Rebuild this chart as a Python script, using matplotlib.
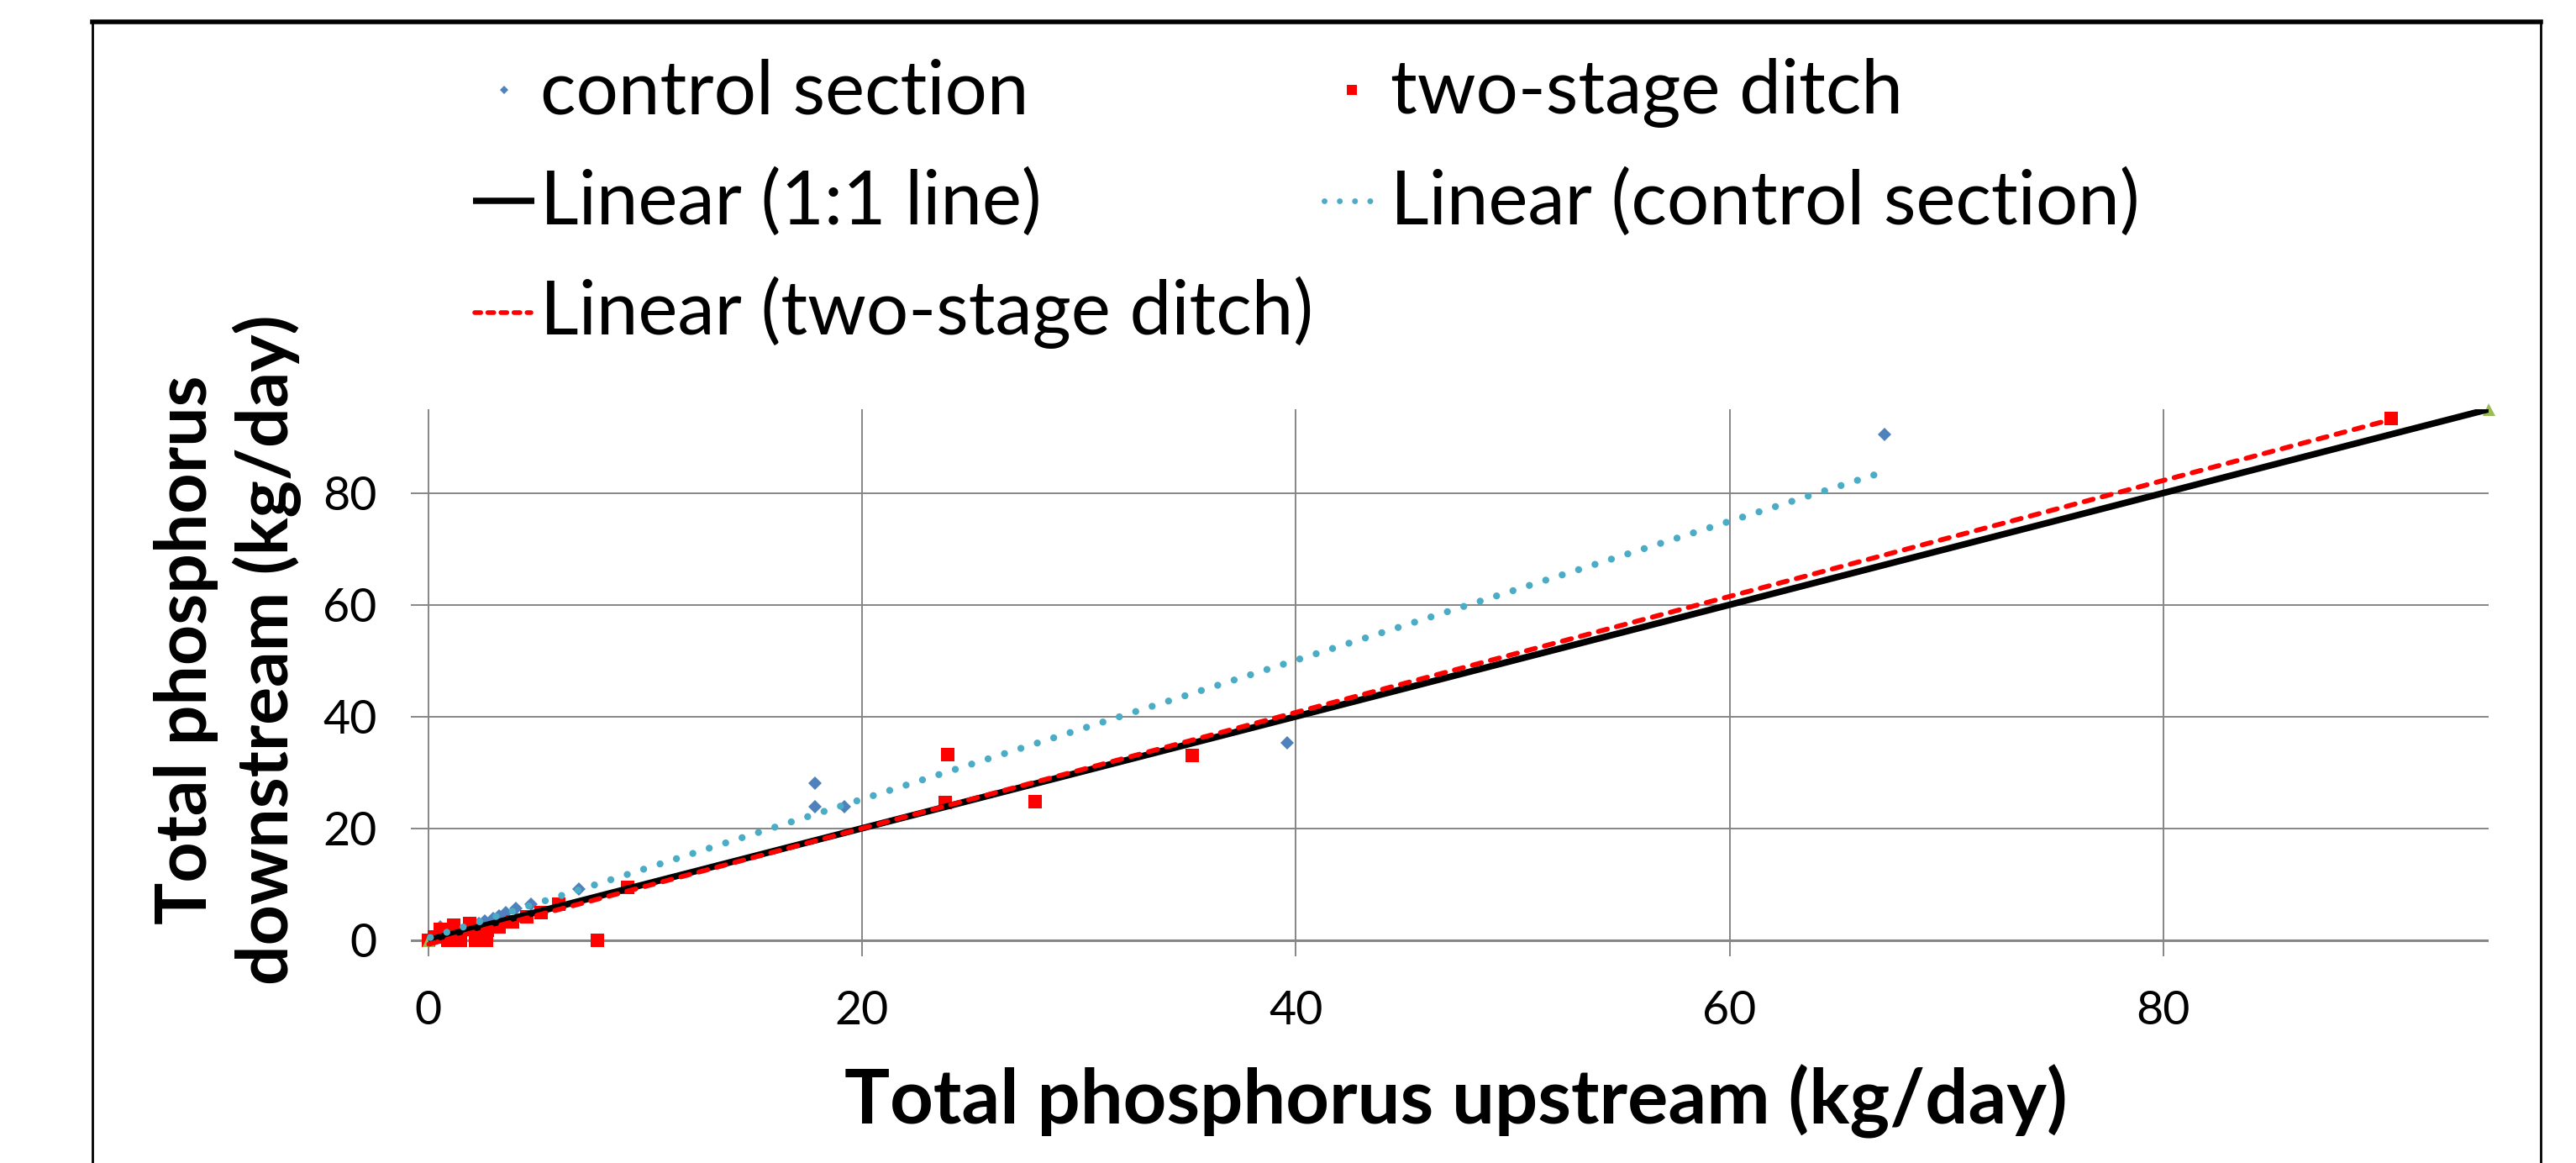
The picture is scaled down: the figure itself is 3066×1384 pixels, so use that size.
import numpy as np
import matplotlib
matplotlib.use("Agg")
import matplotlib.pyplot as plt
from matplotlib.lines import Line2D
from matplotlib.ticker import MultipleLocator

# data (kg/day)
ctrl_x = [0.1, 0.54, 1.2, 2.35, 2.61, 3.0, 3.25, 3.58, 4.03, 4.74, 6.93,
          17.84, 17.84, 19.2, 39.6, 67.16]
ctrl_y = [0.3, 2.4, 1.8, 2.9, 3.35, 3.86, 4.36, 4.85, 5.6, 6.36, 9.12,
          28.05, 23.9, 23.9, 35.3, 90.5]

ditch_x = [0.03, 0.3, 0.9, 1.5, 2.2, 2.7, 2.4, 0.54, 1.19, 1.93, 2.74, 3.25,
           3.9, 4.55, 5.19, 6.03, 7.8, 9.2, 23.85, 23.97, 28.0, 35.24, 90.5]
ditch_y = [0.0, 0.5, 0.0, 0.0, 0.0, 0.0, 0.8, 1.9, 2.6, 3.0, 1.8, 2.36,
           3.26, 4.1, 4.85, 6.36, 0.0, 9.4, 24.6, 33.2, 24.8, 33.0, 93.3]

one_x = [0, 95]
one_y = [0, 95]

C_CTRL = "#4F81BD"
C_DITCH = "#FF0000"
C_FIT = "#4BACC6"
C_ONE = "#9BBB59"
C_GRID = "#868686"

W, H = 3066, 1384
FONT = "Lato"


def fx(px):
    return px / W


def fy(py):
    return 1 - py / H


def trend(x, y):
    x = np.asarray(x, float)
    y = np.asarray(y, float)
    k, b = np.polyfit(x, y, 1)
    xs = np.array([x.min(), x.max()])
    return xs, k * xs + b


fig = plt.figure(figsize=(W / 100, H / 100), dpi=100)
ax = fig.add_axes([fx(489), fy(1138), fx(2962) - fx(489), fy(487) - fy(1138)])

ax.set_xlim(-0.8, 95)
ax.set_ylim(-2.9, 95)
ax.xaxis.set_major_locator(MultipleLocator(20))
ax.yaxis.set_major_locator(MultipleLocator(20))
ax.grid(True, color=C_GRID, lw=1.4, zorder=0)
ax.axhline(0, color=C_GRID, lw=2.2, zorder=1)
ax.set_axisbelow(True)
for s in ax.spines.values():
    s.set_visible(False)
ax.tick_params(length=0, labelsize=40, pad=29)
for lab in ax.get_xticklabels() + ax.get_yticklabels():
    lab.set_fontfamily(FONT)

# points
ax.plot(ctrl_x, ctrl_y, "D", color=C_CTRL, ms=8.4, mew=0, zorder=3)
ax.plot(ditch_x, ditch_y, "s", color=C_DITCH, ms=11, mew=0, zorder=4)
ax.plot(one_x, one_y, "^", color=C_ONE, ms=10.8, mew=0, zorder=5, clip_on=False)

# linear trendlines
tx, ty = trend(one_x, one_y)
ax.plot(tx, ty, "-", color="black", lw=5.6, solid_capstyle="butt", zorder=6)
tx, ty = trend(ctrl_x, ctrl_y)
ax.plot(tx, ty, color=C_FIT, lw=6, ls=(0, (0.01, 2.45)),
        dash_capstyle="round", zorder=7)
tx, ty = trend(ditch_x, ditch_y)
ax.plot(tx, ty, color=C_DITCH, lw=4.2, ls=(0, (1.9, 1.9)),
        dash_capstyle="round", zorder=8)

# axis titles
fig.text(fx(1733), fy(1337), "Total phosphorus upstream (kg/day)",
         ha="center", va="baseline", fontsize=65, fontweight="bold",
         family=FONT)
fig.text(fx(271), fy(773), "Total phosphorus\ndownstream (kg/day)",
         ha="center", va="center", rotation=90, fontsize=60.5,
         fontweight="bold", family=FONT, linespacing=1.25,
         multialignment="center")


# legend, laid out like the Excel one
def leg_text(x, base, s):
    fig.text(fx(x), fy(base), s, ha="left", va="baseline", fontsize=64,
             family=FONT)


fig.add_artist(Line2D([fx(600)], [fy(107)], marker="D", color=C_CTRL,
                      ms=5.5, mew=0, ls="none"))
leg_text(643, 135, "control section")
fig.add_artist(Line2D([fx(1609)], [fy(107)], marker="s", color=C_DITCH,
                      ms=8.5, mew=0, ls="none"))
leg_text(1655, 135, "two-stage ditch")

fig.add_artist(Line2D([fx(563), fx(636)], [fy(239), fy(239)], color="black",
                      lw=5.4, solid_capstyle="butt"))
leg_text(643, 267, "Linear (1:1 line)")
fig.add_artist(Line2D([fx(1576), fx(1643)], [fy(239), fy(239)], color=C_FIT,
                      lw=5, ls=(0, (0.01, 2.6)), dash_capstyle="round"))
leg_text(1655, 267, "Linear (control section)")

fig.add_artist(Line2D([fx(565), fx(632)], [fy(372), fy(372)], color=C_DITCH,
                      lw=4, ls=(0, (1.3, 1.5)), dash_capstyle="round"))
leg_text(643, 398, "Linear (two-stage ditch)")

# chart border (cropped at the bottom)
fig.add_artist(Line2D([fx(110), fx(3024)], [fy(26), fy(26)], color="black", lw=4))
fig.add_artist(Line2D([fx(110), fx(110)], [fy(26), 0], color="black", lw=2))
fig.add_artist(Line2D([fx(3024), fx(3024)], [fy(26), 0], color="black", lw=2))

fig.savefig("out.png", dpi=100, facecolor="white")
